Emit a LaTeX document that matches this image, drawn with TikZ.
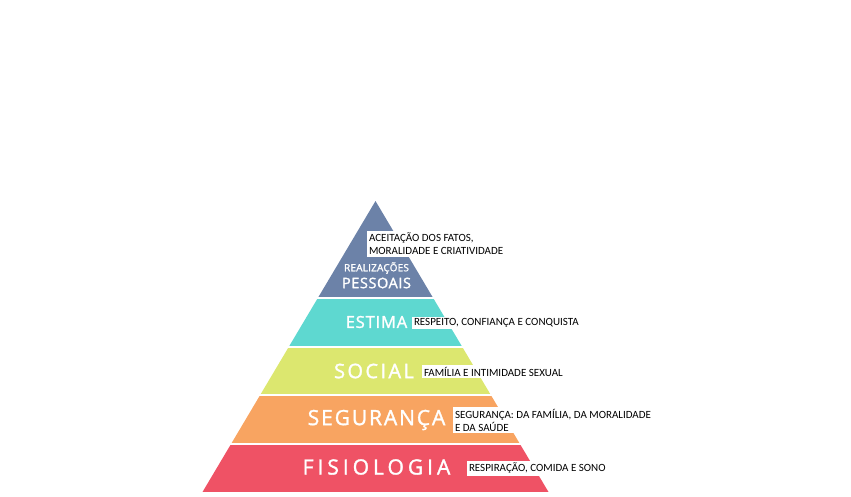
\documentclass[tikz,border=0pt]{standalone}
\usepackage{fontspec}
\setmainfont{Carlito}
\newfontfamily\bigfont[FakeBold=1.6]{Open Sans}
\definecolor{cTop}{HTML}{6C82A8}
\definecolor{cEst}{HTML}{5ED8D0}
\definecolor{cSoc}{HTML}{DCE76F}
\definecolor{cSeg}{HTML}{F8A461}
\definecolor{cFis}{HTML}{EF5265}
\newcommand{\lvlfont}[2]{\bigfont\fontsize{#1}{#1}\selectfont\addfontfeatures{LetterSpace=#2}}
\tikzset{
  lvl/.style={text=white, inner sep=0pt, anchor=center},
  note/.style={fill=white, text=black, inner sep=1.8pt, anchor=west, align=left,
    font=\fontsize{11}{13}\selectfont}
}
\begin{document}
\begin{tikzpicture}[x=1pt,y=-1pt]
\useasboundingbox (0,0) rectangle (851,496);
\begin{scope}
  \clip (375.5,201) -- (548.5,492) -- (202.5,492) -- cycle;
  \fill[cTop] (150,190) rectangle (600,297);
  \fill[cEst] (150,299) rectangle (600,345.5);
  \fill[cSoc] (150,347.5) rectangle (600,393.5);
  \fill[cSeg] (150,395.5) rectangle (600,443);
  \fill[cFis] (150,445) rectangle (600,492);
\end{scope}
\node[lvl, font=\lvlfont{10}{2}] (real) at (376.5,268) {REALIZAÇÕES};
\node[lvl, font=\lvlfont{14.5}{4}] (pess) at (376.5,283) {PESSOAIS};
\node[lvl, font=\lvlfont{16.5}{5}] (est) at (376.5,322) {ESTIMA};
\node[lvl, font=\lvlfont{20}{12}] (soc) at (374,371) {SOCIAL};
\node[lvl, font=\lvlfont{21}{9}] (seg) at (376.5,420) {SEGURANÇA};
\node[lvl, font=\lvlfont{21}{19}] (fis) at (376.5,467) {FISIOLOGIA};
\node[note] (n1) at (367,244) {ACEITAÇÃO DOS FATOS,\\MORALIDADE E CRIATIVIDADE};
\node[note] (n2) at (412,323) {RESPEITO, CONFIANÇA E CONQUISTA};
\node[note] (n3) at (422,371.5) {FAMÍLIA E INTIMIDADE SEXUAL};
\node[note] (n4) at (453,420) {SEGURANÇA: DA FAMÍLIA, DA MORALIDADE\\E DA SAÚDE};
\node[note] (n5) at (467,468.5) {RESPIRAÇÃO, COMIDA E SONO};
\end{tikzpicture}
\end{document}
